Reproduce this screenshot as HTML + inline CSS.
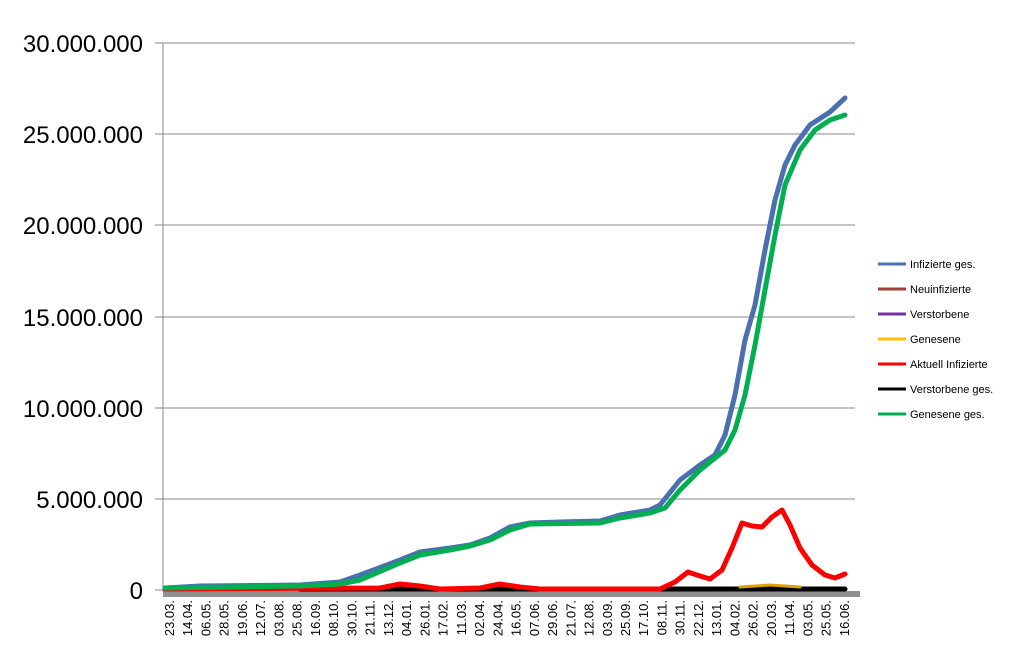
<!DOCTYPE html><html><head><style>body{margin:0;background:#fff}svg{display:block}</style></head><body>
<svg width="1010" height="658" xmlns="http://www.w3.org/2000/svg" font-family="Liberation Sans, sans-serif">
<g stroke="#888" stroke-width="1">
<line x1="155" y1="43" x2="855" y2="43"/><line x1="155" y1="134" x2="855" y2="134"/><line x1="155" y1="225" x2="855" y2="225"/><line x1="155" y1="317" x2="855" y2="317"/><line x1="155" y1="408" x2="855" y2="408"/><line x1="155" y1="499" x2="855" y2="499"/>
<line x1="163" y1="43" x2="163" y2="592"/>
</g>
<rect x="163" y="591" width="697" height="6" fill="#909090"/>
<line x1="155" y1="590" x2="163" y2="590" stroke="#888"/>
<g font-size="24" text-anchor="end" fill="#000">
<text x="143" y="52">30.000.000</text><text x="143" y="143">25.000.000</text><text x="143" y="234">20.000.000</text><text x="143" y="326">15.000.000</text><text x="143" y="417">10.000.000</text><text x="143" y="508">5.000.000</text><text x="143" y="599">0</text>
</g>
<g fill="none" stroke-linejoin="round" stroke-linecap="round">
<polyline stroke="#000" stroke-width="5" points="300,589 845,589"/>
<polyline stroke="#e0a000" stroke-width="3" points="740,587 770,585 800,587"/>
<polyline stroke="#ff0000" stroke-width="5" points="165,589 380,588 400,584 420,586 440,589 480,588 500,584 520,587 540,589 660,589 675,582 688,572 700,576 710,579 722,570 732,548 742,523 752,526 762,527 772,517 782,510 790,525 800,548 812,565 825,575 835,578 845,574"/>
<polyline stroke="#4a70b0" stroke-width="5" points="165,588 200,586 300,585 340,582 360,575 400,560 420,552 450,548 470,545 490,538 510,527 530,523 560,522 600,521 620,515 650,510 660,505 680,480 700,465 715,455 725,435 735,395 745,340 755,305 765,250 775,200 785,165 795,145 810,125 830,112 845,98"/>
<polyline stroke="#00b050" stroke-width="5" points="165,588 300,586 340,584 360,580 400,563 420,555 450,550 470,546 490,540 510,530 530,524 600,523 620,518 650,513 665,508 680,490 700,470 725,450 735,430 745,395 755,345 765,290 775,235 785,185 800,150 815,130 830,120 845,115"/>
</g>
<g font-size="13" fill="#000" text-anchor="end">
<text transform="translate(174,600) rotate(-90)">23.03.</text>
<text transform="translate(192.2,600) rotate(-90)">14.04.</text>
<text transform="translate(210.5,600) rotate(-90)">06.05.</text>
<text transform="translate(228.7,600) rotate(-90)">28.05.</text>
<text transform="translate(247,600) rotate(-90)">19.06.</text>
<text transform="translate(265.2,600) rotate(-90)">12.07.</text>
<text transform="translate(283.4,600) rotate(-90)">03.08.</text>
<text transform="translate(301.7,600) rotate(-90)">25.08.</text>
<text transform="translate(319.9,600) rotate(-90)">16.09.</text>
<text transform="translate(338.2,600) rotate(-90)">08.10.</text>
<text transform="translate(356.4,600) rotate(-90)">30.10.</text>
<text transform="translate(374.6,600) rotate(-90)">21.11.</text>
<text transform="translate(392.9,600) rotate(-90)">13.12.</text>
<text transform="translate(411.1,600) rotate(-90)">04.01.</text>
<text transform="translate(429.4,600) rotate(-90)">26.01.</text>
<text transform="translate(447.6,600) rotate(-90)">17.02.</text>
<text transform="translate(465.8,600) rotate(-90)">11.03.</text>
<text transform="translate(484.1,600) rotate(-90)">02.04.</text>
<text transform="translate(502.3,600) rotate(-90)">24.04.</text>
<text transform="translate(520.6,600) rotate(-90)">16.05.</text>
<text transform="translate(538.8,600) rotate(-90)">07.06.</text>
<text transform="translate(557,600) rotate(-90)">29.06.</text>
<text transform="translate(575.3,600) rotate(-90)">21.07.</text>
<text transform="translate(593.5,600) rotate(-90)">12.08.</text>
<text transform="translate(611.8,600) rotate(-90)">03.09.</text>
<text transform="translate(630,600) rotate(-90)">25.09.</text>
<text transform="translate(648.2,600) rotate(-90)">17.10.</text>
<text transform="translate(666.5,600) rotate(-90)">08.11.</text>
<text transform="translate(684.7,600) rotate(-90)">30.11.</text>
<text transform="translate(703,600) rotate(-90)">22.12.</text>
<text transform="translate(721.2,600) rotate(-90)">13.01.</text>
<text transform="translate(739.4,600) rotate(-90)">04.02.</text>
<text transform="translate(757.7,600) rotate(-90)">26.02.</text>
<text transform="translate(775.9,600) rotate(-90)">20.03.</text>
<text transform="translate(794.2,600) rotate(-90)">11.04.</text>
<text transform="translate(812.4,600) rotate(-90)">03.05.</text>
<text transform="translate(830.6,600) rotate(-90)">25.05.</text>
<text transform="translate(849,600) rotate(-90)">16.06.</text>
</g>
<g font-size="11" fill="#000" stroke-width="3">
<line x1="878" y1="264" x2="906" y2="264" stroke="#4a70b0"/><text x="910" y="268">Infizierte ges.</text>
<line x1="878" y1="289" x2="906" y2="289" stroke="#a0403a"/><text x="910" y="293">Neuinfizierte</text>
<line x1="878" y1="314" x2="906" y2="314" stroke="#7030a0"/><text x="910" y="318">Verstorbene</text>
<line x1="878" y1="339" x2="906" y2="339" stroke="#ffc000"/><text x="910" y="343">Genesene</text>
<line x1="878" y1="364" x2="906" y2="364" stroke="#ff0000"/><text x="910" y="368">Aktuell Infizierte</text>
<line x1="878" y1="389" x2="906" y2="389" stroke="#000"/><text x="910" y="393">Verstorbene ges.</text>
<line x1="878" y1="414" x2="906" y2="414" stroke="#00b050"/><text x="910" y="418">Genesene ges.</text>
</g>
</svg>
</body></html>
